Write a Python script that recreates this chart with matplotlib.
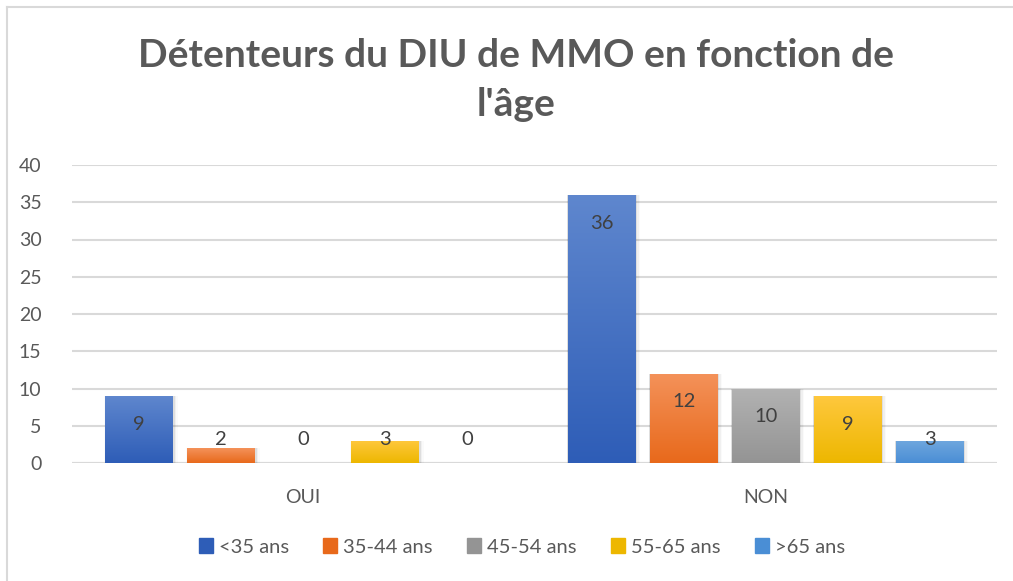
import matplotlib
matplotlib.use("Agg")
import matplotlib.pyplot as plt
import numpy as np
from matplotlib.colors import LinearSegmentedColormap
from matplotlib.patches import Rectangle
from matplotlib.lines import Line2D

categories = ["OUI", "NON"]
series_names = ["<35 ans", "35-44 ans", "45-54 ans", "55-65 ans", ">65 ans"]
values_lt35 = [9, 36]
values_35_44 = [2, 12]
values_45_54 = [0, 10]
values_55_65 = [3, 9]
values_gt65 = [0, 3]
series_values = [values_lt35, values_35_44, values_45_54, values_55_65, values_gt65]
yticks = [0, 5, 10, 15, 20, 25, 30, 35, 40]
title = "Détenteurs du DIU de MMO en fonction de\nl'âge"

# (top colour, bottom colour) gradients
grads = [("#5F87CE", "#2E5DB7"),
         ("#F4925A", "#E8691B"),
         ("#B2B2B2", "#949494"),
         ("#FFC83E", "#EDB700"),
         ("#70A7DE", "#4A8ED5")]

plt.rcParams['font.family'] = ['Lato', 'DejaVu Sans']
txt = "#595959"

fig = plt.figure(figsize=(10.13, 5.81), dpi=100)
ax = fig.add_axes([72/1013, 1-463/581, 925/1013, 298/581])

# outer border
fig.add_artist(Line2D([7/1013, 7/1013], [0, 1-7/581], transform=fig.transFigure, color="#D9D9D9", lw=1.5))
fig.add_artist(Line2D([7/1013, 1], [1-7/581, 1-7/581], transform=fig.transFigure, color="#D9D9D9", lw=1.5))

n = len(series_names)
width = 68/462.5
step = 82/462.5
x = np.arange(len(categories))

ax.set_xlim(-0.5, 1.5)
ax.set_ylim(0, 40)
ax.set_yticks(yticks)
ax.yaxis.grid(True, color="#D9D9D9", lw=1.5)
ax.set_axisbelow(True)
for s in ax.spines.values():
    s.set_visible(False)
ax.axhline(0, color="#D9D9D9", lw=1.5, zorder=1)

grad_img = np.linspace(1, 0, 256).reshape(-1, 1)
for i, (name, vals) in enumerate(zip(series_names, series_values)):
    top, bot = grads[i]
    cmap = LinearSegmentedColormap.from_list(name, [bot, top])
    offs = x + (i - (n - 1) / 2) * step
    bars = ax.bar(offs, vals, width=width, color=bot, label=name, zorder=2)
    for b, v in zip(bars, vals):
        if v > 0:
            # soft shadow
            for k, a in enumerate([0.07, 0.04, 0.02]):
                d = 0.0025 * (k + 1)
                sh = Rectangle((b.get_x() - d * 0.3, -0.05), b.get_width() + d * 1.6, v + 0.05,
                               color="#000000", alpha=a, zorder=1.5, lw=0)
                ax.add_patch(sh)
            im = ax.imshow(grad_img, cmap=cmap, aspect="auto",
                           extent=[b.get_x(), b.get_x() + b.get_width(), 0, v],
                           zorder=2.5, vmin=0, vmax=1)
            im.set_clip_path(b)
        ly = max(v - 3.8, 3.2)
        ax.text(b.get_x() + b.get_width() / 2, ly, str(v), ha="center", va="center",
                fontsize=14.5, color="#404040", zorder=4)

ax.set_xticks(x)
ax.set_xticklabels(categories)
ax.tick_params(axis="x", length=0, pad=19, labelsize=14, labelcolor=txt)
ax.tick_params(axis="y", length=0, pad=22, labelsize=14, labelcolor=txt)

fig.text(516/1013, 1-80/581, title, ha="center", va="center", fontsize=28, fontweight="bold",
         color=txt, linespacing=1.45)

handles = [Rectangle((0, 0), 1, 1, color=grads[i][1]) for i in range(n)]
fig.legend(handles, series_names, loc="center", bbox_to_anchor=(522/1013, 1-547/581), ncol=n,
           frameon=False, fontsize=14.5, labelcolor=txt, handlelength=0.7, handleheight=0.7,
           handletextpad=0.3, columnspacing=1.7)

fig.savefig("out.png", dpi=100)
